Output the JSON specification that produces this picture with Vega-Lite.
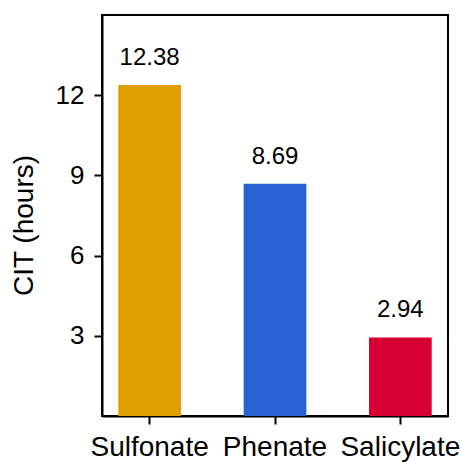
{
  "$schema": "https://vega.github.io/schema/vega-lite/v6.json",
  "autosize": "none",
  "width": 346,
  "height": 401,
  "padding": {"left": 102, "top": 15, "right": 13, "bottom": 46},
  "background": "white",
  "config": {
    "font": "Liberation Sans",
    "view": {"stroke": "black", "strokeWidth": 2}
  },
  "data": {
    "values": [
      {"anion": "Sulfonate", "cit": 12.38, "label": "12.38"},
      {"anion": "Phenate", "cit": 8.69, "label": "8.69"},
      {"anion": "Salicylate", "cit": 2.94, "label": "2.94"}
    ]
  },
  "encoding": {
    "x": {
      "field": "anion",
      "type": "nominal",
      "sort": ["Sulfonate", "Phenate", "Salicylate"],
      "scale": {"paddingInner": 0.5, "paddingOuter": 0.13},
      "axis": {
        "title": null,
        "labelAngle": 0,
        "labelFontSize": 28,
        "labelColor": "black",
        "labelPadding": 9,
        "tickSize": 8,
        "tickWidth": 2,
        "tickColor": "black",
        "domainColor": "black",
        "domainWidth": 2
      }
    },
    "y": {
      "field": "cit",
      "type": "quantitative",
      "scale": {"domain": [0, 15], "nice": false},
      "axis": {
        "title": "CIT (hours)",
        "values": [3, 6, 9, 12],
        "grid": false,
        "labelFontSize": 26,
        "labelColor": "black",
        "labelPadding": 10,
        "tickSize": 8,
        "tickWidth": 2,
        "tickColor": "black",
        "domainColor": "black",
        "domainWidth": 2,
        "titleFontSize": 28,
        "titleFontWeight": "normal",
        "titleColor": "black",
        "titleX": -78,
        "titleY": 210,
        "titleAngle": -90,
        "titleBaseline": "middle",
        "titleAlign": "center"
      }
    }
  },
  "layer": [
    {
      "mark": {"type": "bar"},
      "encoding": {
        "color": {
          "field": "anion",
          "type": "nominal",
          "scale": {
            "domain": ["Sulfonate", "Phenate", "Salicylate"],
            "range": ["#E09D00", "#2A62D4", "#D60032"]
          },
          "legend": null
        }
      }
    },
    {
      "mark": {"type": "text", "fontSize": 24, "dy": -20, "baseline": "alphabetic", "color": "black"},
      "encoding": {"text": {"field": "label"}}
    }
  ]
}
